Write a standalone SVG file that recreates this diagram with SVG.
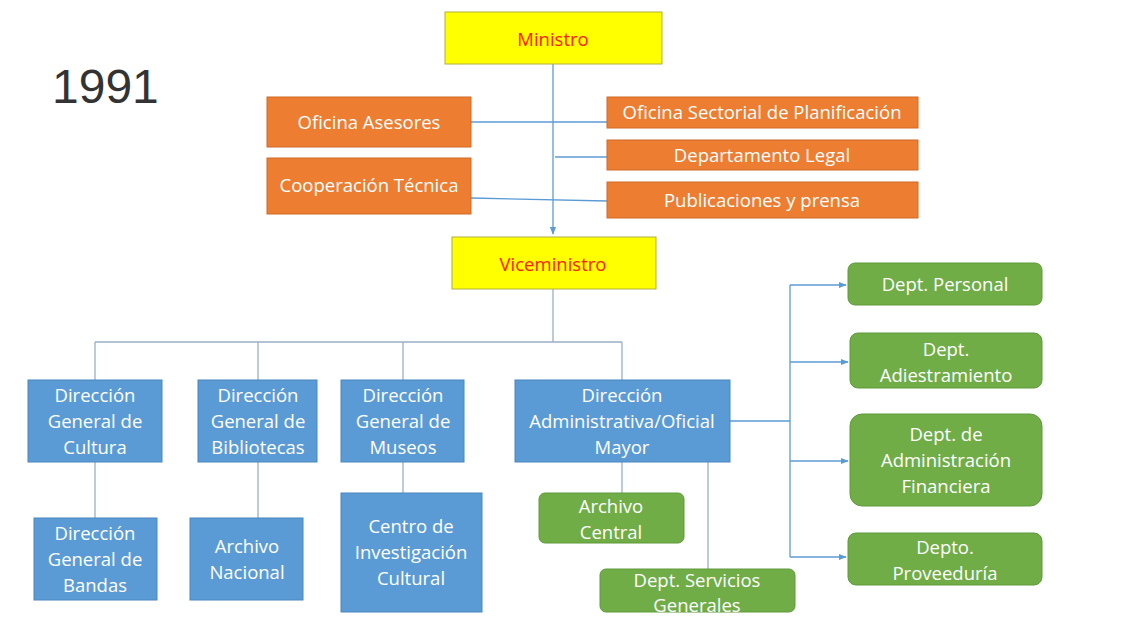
<svg xmlns="http://www.w3.org/2000/svg" width="1128" height="622" viewBox="0 0 1128 622">
<defs>
<marker id="arr" viewBox="0 0 10 10" refX="9" refY="5" markerWidth="6" markerHeight="6" orient="auto"><path d="M0,1 L10,5 L0,9 z" fill="#5B9BD5"/></marker>
<style>
.t{font-family:"Open Sans","Liberation Sans",Arial,sans-serif;font-size:18.5px;fill:#fff;text-anchor:middle}
.r{font-family:"Open Sans","Liberation Sans",Arial,sans-serif;font-size:18.5px;fill:#FF2000;text-anchor:middle}
.y{fill:#FFFF00;stroke:#B0B040;stroke-width:1}
.o{fill:#ED7D31;stroke:#D06A28;stroke-width:1}
.b{fill:#5B9BD5;stroke:#4A86BE;stroke-width:1}
.g{fill:#70AD47;stroke:#5F9A3A;stroke-width:1}
.c{fill:none;stroke:#5B9BD5;stroke-width:1.3}
.c2{fill:none;stroke:#9AAFC6;stroke-width:1.3}
</style>
</defs>
<rect width="1128" height="622" fill="#fff"/>
<text x="52" y="103" font-family="Liberation Sans,Arial,sans-serif" font-size="48" fill="#333">1991</text>
<g id="connectors">
<path class="c" d="M553,64 V234" marker-end="url(#arr)"/>
<path class="c" d="M471,122 H607"/>
<path class="c" d="M555,157 H607"/>
<path class="c" d="M471,198 L607,201"/>
<path class="c2" d="M553,289 V342 M95,342 H622 M95,342 V380 M258,342 V380 M403,342 V380 M622,342 V380"/>
<path class="c2" d="M95,462 V518 M258,462 V518 M403,462 V493 M622,462 V493 M708,462 V569"/>
<path class="c" d="M730,421 H790 M790,285 V557"/>
<path class="c" d="M790,285 H846" marker-end="url(#arr)"/>
<path class="c" d="M790,362 H848" marker-end="url(#arr)"/>
<path class="c" d="M790,461 H848" marker-end="url(#arr)"/>
<path class="c" d="M790,557 H846" marker-end="url(#arr)"/>
</g>
<g id="ministro"><rect class="y" x="445" y="12" width="217" height="52"/><text class="r" x="553" y="46">Ministro</text></g>
<g id="oficina-asesores"><rect class="o" x="267" y="97" width="204" height="50"/><text class="t" x="369" y="129">Oficina Asesores</text></g>
<g id="cooperacion"><rect class="o" x="267" y="158" width="204" height="56"/><text class="t" x="369" y="192">Cooperación Técnica</text></g>
<g id="planificacion"><rect class="o" x="607" y="97" width="311" height="31"/><text class="t" x="762" y="119">Oficina Sectorial de Planificación</text></g>
<g id="legal"><rect class="o" x="607" y="140" width="311" height="30"/><text class="t" x="762" y="162">Departamento Legal</text></g>
<g id="publicaciones"><rect class="o" x="607" y="182" width="311" height="36"/><text class="t" x="762" y="207">Publicaciones y prensa</text></g>
<g id="viceministro"><rect class="y" x="452" y="237" width="204" height="52"/><text class="r" x="553" y="271">Viceministro</text></g>
<g id="cultura"><rect class="b" x="28" y="380" width="134" height="82"/><text class="t" x="95" y="402">Dirección</text><text class="t" x="95" y="428">General de</text><text class="t" x="95" y="454">Cultura</text></g>
<g id="bibliotecas"><rect class="b" x="198" y="380" width="119" height="82"/><text class="t" x="258" y="402">Dirección</text><text class="t" x="258" y="428">General de</text><text class="t" x="258" y="454">Bibliotecas</text></g>
<g id="museos"><rect class="b" x="341" y="380" width="123" height="82"/><text class="t" x="403" y="402">Dirección</text><text class="t" x="403" y="428">General de</text><text class="t" x="403" y="454">Museos</text></g>
<g id="administrativa"><rect class="b" x="515" y="380" width="215" height="82"/><text class="t" x="622" y="402">Dirección</text><text class="t" x="622" y="428">Administrativa/Oficial</text><text class="t" x="622" y="454">Mayor</text></g>
<g id="bandas"><rect class="b" x="34" y="518" width="123" height="82"/><text class="t" x="95" y="540">Dirección</text><text class="t" x="95" y="566">General de</text><text class="t" x="95" y="592">Bandas</text></g>
<g id="archivo-nacional"><rect class="b" x="190" y="518" width="113" height="82"/><text class="t" x="247" y="553">Archivo</text><text class="t" x="247" y="579">Nacional</text></g>
<g id="centro"><rect class="b" x="341" y="493" width="141" height="119"/><text class="t" x="411" y="533">Centro de</text><text class="t" x="411" y="559">Investigación</text><text class="t" x="411" y="585">Cultural</text></g>
<g id="archivo-central"><rect class="g" x="539" y="493" width="145" height="50" rx="6"/><text class="t" x="611" y="513">Archivo</text><text class="t" x="611" y="539">Central</text></g>
<g id="servicios"><rect class="g" x="600" y="569" width="195" height="43" rx="6"/><text class="t" x="697" y="587">Dept. Servicios</text><text class="t" x="697" y="612">Generales</text></g>
<g id="personal"><rect class="g" x="848" y="263" width="194" height="42" rx="7"/><text class="t" x="945" y="291">Dept. Personal</text></g>
<g id="adiestramiento"><rect class="g" x="850" y="333" width="192" height="55" rx="8"/><text class="t" x="946" y="356">Dept.</text><text class="t" x="946" y="382">Adiestramiento</text></g>
<g id="financiera"><rect class="g" x="850" y="414" width="192" height="92" rx="12"/><text class="t" x="946" y="441">Dept. de</text><text class="t" x="946" y="467">Administración</text><text class="t" x="946" y="493">Financiera</text></g>
<g id="proveeduria"><rect class="g" x="848" y="533" width="194" height="52" rx="8"/><text class="t" x="945" y="554">Depto.</text><text class="t" x="945" y="580">Proveeduría</text></g>
</svg>
